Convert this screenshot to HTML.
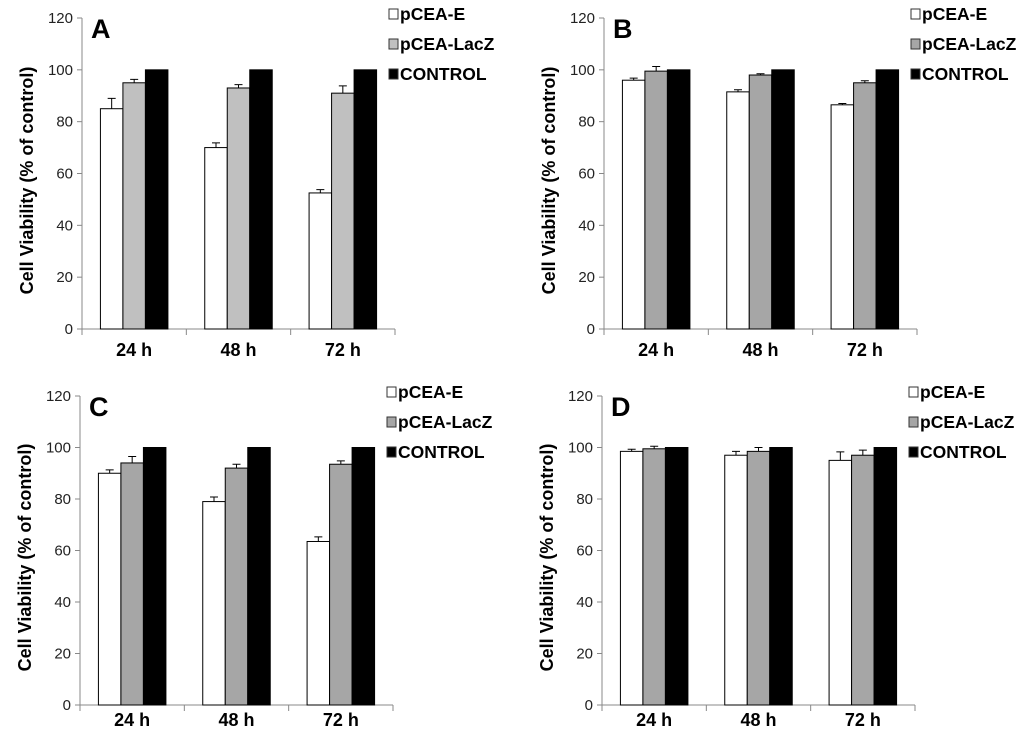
<!DOCTYPE html>
<html><head><meta charset="utf-8"><style>
body{margin:0;background:#fff;width:1024px;height:744px;overflow:hidden}
svg text{font-family:"Liberation Sans",Arial,sans-serif}
</style></head><body>
<svg id="fig" width="1024" height="744" xmlns="http://www.w3.org/2000/svg"></svg>
<script>
const categories=["24 h","48 h","72 h"];
const seriesNames=["pCEA-E","pCEA-LacZ","CONTROL"];
const yTicks=[0,20,40,60,80,100,120];
const panelLabels=["A","B","C","D"];
const aE=[85,70,52.5], aEerr=[4,1.8,1.3];
const aL=[95,93,91], aLerr=[1.3,1.3,2.8];
const aC=[100,100,100];
const bE=[96,91.5,86.5], bEerr=[0.8,0.8,0.5];
const bL=[99.5,98,95], bLerr=[1.8,0.5,0.8];
const bC=[100,100,100];
const cE=[90,79,63.5], cEerr=[1.3,1.8,1.8];
const cL=[94,92,93.5], cLerr=[2.5,1.5,1.3];
const cC=[100,100,100];
const dE=[98.5,97,95], dEerr=[0.8,1.5,3.3];
const dL=[99.5,98.5,97], dLerr=[1,1.5,2];
const dC=[100,100,100];
const panelData=[[aE,aEerr,aL,aLerr,aC],[bE,bEerr,bL,bLerr,bC],[cE,cEerr,cL,cLerr,cC],[dE,dEerr,dL,dLerr,dC]];
const geo=[{x0:82,top:18,bot:329,lab:27},{x0:604,top:18,bot:329,lab:27},{x0:80,top:396,bot:705,lab:21},{x0:602,top:396,bot:705,lab:21}];
const grays=["#c0c0c0","#a6a6a6","#a6a6a6","#a6a6a6"];
const NS="http://www.w3.org/2000/svg";
const svg=document.getElementById('fig');
function mk(tag,attrs,parent){const e=document.createElementNS(NS,tag);for(const k in attrs)e.setAttribute(k,attrs[k]);(parent||svg).appendChild(e);return e;}
panelData.forEach((pd,p)=>{
  const g=geo[p], W=313;
  const grp=mk('g',{});
  
  
  const y=v=>g.bot-(v/120)*(g.bot-g.top);
  const bw=W/categories.length;
  const xc=i=>g.x0+bw*i+bw/2;
  const ax=mk('line',{x1:g.x0,y1:g.top,x2:g.x0,y2:g.bot,stroke:'#888','stroke-width':1},grp);
  
  const xa=mk('line',{x1:g.x0-5,y1:g.bot,x2:g.x0+W,y2:g.bot,stroke:'#888','stroke-width':1},grp);
  
  yTicks.forEach(t=>{
    mk('line',{x1:g.x0-5,y1:y(t),x2:g.x0,y2:y(t),stroke:'#888'},grp);
    const tl=mk('text',{x:g.x0-9,y:y(t)+5,'text-anchor':'end','font-size':15,fill:'#222'},grp);
    tl.textContent=t;
    
  });
  for(let i=0;i<=categories.length;i++)mk('line',{x1:g.x0+bw*i,y1:g.bot,x2:g.x0+bw*i,y2:g.bot+6,stroke:'#888'},grp);
  categories.forEach((c,i)=>{
    const tl=mk('text',{x:xc(i),y:g.bot+g.lab,'text-anchor':'middle','font-size':18,'font-weight':'bold',fill:'#000'},grp);
    tl.textContent=c;
    
  });
  const yt=mk('text',{transform:`translate(${g.x0-49},${(g.top+g.bot)/2+7}) rotate(-90)`,'text-anchor':'middle','font-size':18,'font-weight':'bold',fill:'#000'},grp);
  yt.textContent='Cell Viability (% of control)';
  
  const pl=mk('text',{x:g.x0+9,y:g.top+20,'font-size':27,'font-weight':'bold',fill:'#000'},grp);
  pl.textContent=panelLabels[p];
  
  const vals=[pd[0],pd[2],pd[4]], errs=[pd[1],pd[3],null];
  const fills=['#fff',grays[p],'#000'];
  const w=22.5;
  categories.forEach((c,i)=>{
    vals.forEach((s,k)=>{
      const bx=xc(i)-1.5*w+k*w;
      const r=mk('rect',{x:bx,y:y(s[i]),width:w,height:g.bot-y(s[i]),fill:fills[k],stroke:'#000','stroke-width':1},grp);
      
      
      if(errs[k]){
        const cx=bx+w/2, ye=y(s[i]+errs[k][i]);
        const e=mk('path',{d:`M${cx},${y(s[i])}V${ye}M${cx-4},${ye}H${cx+4}`,stroke:'#000','stroke-width':1,fill:'none'},grp);
        
      }
    });
  });
  seriesNames.forEach((n,k)=>{
    const ly=g.top-4+k*30;
    const sq=mk('rect',{x:g.x0+W-6,y:ly-5,width:9,height:10,fill:fills[k],stroke:'#333'},grp);
    
    const lt=mk('text',{x:g.x0+W+5,y:ly+6,'font-size':17.5,'font-weight':'bold',fill:'#000'},grp);
    lt.textContent=n;
    
  });
});
</script>
</body></html>
